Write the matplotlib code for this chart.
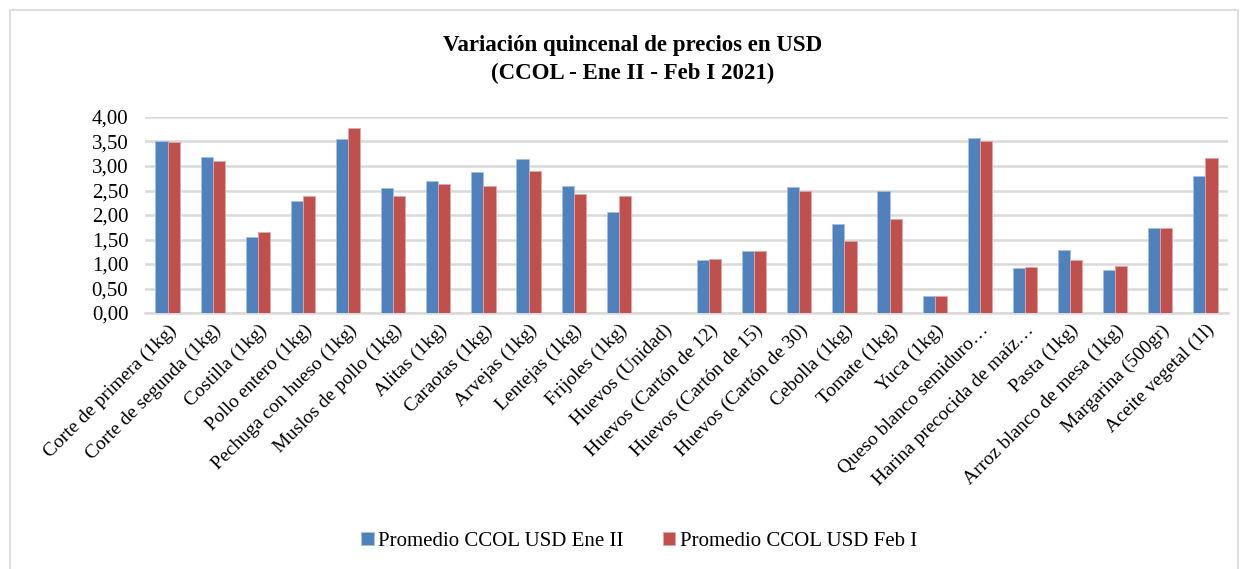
import matplotlib
matplotlib.use("Agg")
import matplotlib.pyplot as plt
import numpy as np
from matplotlib.patches import Rectangle

categories = [
    "Corte de primera (1kg)", "Corte de segunda (1kg)", "Costilla (1kg)",
    "Pollo entero (1kg)", "Pechuga con hueso (1kg)", "Muslos de pollo (1kg)",
    "Alitas (1kg)", "Caraotas (1kg)", "Arvejas (1kg)", "Lentejas (1kg)",
    "Frijoles (1kg)", "Huevos (Unidad)", "Huevos (Cartón de 12)",
    "Huevos (Cartón de 15)", "Huevos (Cartón de 30)", "Cebolla (1kg)",
    "Tomate (1kg)", "Yuca (1kg)", "Queso blanco semiduro…",
    "Harina precocida de maíz…", "Pasta (1kg)", "Arroz blanco de mesa (1kg)",
    "Margarina (500gr)", "Aceite vegetal (1l)",
]
ene_ii = [3.52, 3.19, 1.56, 2.28, 3.56, 2.56, 2.70, 2.87, 3.15, 2.60, 2.06, 0.0,
          1.08, 1.27, 2.57, 1.81, 2.49, 0.35, 3.58, 0.91, 1.29, 0.88, 1.74, 2.79]
feb_i = [3.48, 3.10, 1.66, 2.38, 3.77, 2.38, 2.63, 2.60, 2.89, 2.43, 2.38, 0.0,
         1.10, 1.26, 2.48, 1.46, 1.91, 0.34, 3.50, 0.94, 1.08, 0.95, 1.74, 3.17]
series_names = ["Promedio CCOL USD Ene II", "Promedio CCOL USD Feb I"]
yticks = [0, 0.5, 1.0, 1.5, 2.0, 2.5, 3.0, 3.5, 4.0]
title1 = "Variación quincenal de precios en USD"
title2 = "(CCOL - Ene II - Feb I 2021)"

plt.rcParams['font.family'] = ['Liberation Serif', 'DejaVu Serif']

W, H = 1248, 569
fig = plt.figure(figsize=(W / 100, H / 100), dpi=100)

# chart border
fig.patches.append(Rectangle((10 / W, -0.02), (1238 - 10) / W, 1 - 10 / H + 0.02,
                             transform=fig.transFigure, fill=False,
                             edgecolor="#D9D9D9", linewidth=1.2))

ax = fig.add_axes([145 / W, 1 - 313 / H, (1228 - 145) / W, (313 - 117) / H])

x = np.arange(len(categories))
bw = 0.27
blue = "#4F81BD"
red = "#C0504D"
ax.bar(x - bw / 2, ene_ii, width=bw, color=blue, edgecolor="#A7C0DE", linewidth=0.6,
       label=series_names[0], zorder=3)
ax.bar(x + bw / 2, feb_i, width=bw, color=red, edgecolor="#E0A8A6", linewidth=0.6,
       label=series_names[1], zorder=3)

ax.set_xlim(-0.5, len(categories) - 0.5)
ax.set_ylim(0, 4.0)
ax.set_yticks(yticks)
ax.set_yticklabels([f"{v:.2f}".replace(".", ",") for v in yticks], fontsize=15)
ax.yaxis.grid(True, color="#D9D9D9", linewidth=1.8, zorder=0)
ax.set_axisbelow(True)
for s in ["top", "right", "left"]:
    ax.spines[s].set_visible(False)
ax.spines["bottom"].set_color("#D9D9D9")
ax.spines["bottom"].set_linewidth(1.8)
ax.tick_params(axis="both", length=0)
ax.tick_params(axis="y", pad=12)
ax.set_xticks(x)
ax.set_xticklabels(categories, rotation=45, ha="right", rotation_mode="anchor",
                   fontsize=14)
ax.tick_params(axis="x", pad=6)

fig.text(633 / W, 1 - 45 / H, title1, ha="center", va="center", fontsize=16.5,
         fontweight="bold")
fig.text(633 / W, 1 - 73 / H, title2, ha="center", va="center", fontsize=16.5,
         fontweight="bold")

fig.legend(loc="center", bbox_to_anchor=(639 / W, 1 - 541 / H), ncol=2,
           frameon=False, fontsize=15, handlelength=0.6, handleheight=0.6,
           handletextpad=0.2, columnspacing=1.9)

fig.savefig("out.png", dpi=100)
